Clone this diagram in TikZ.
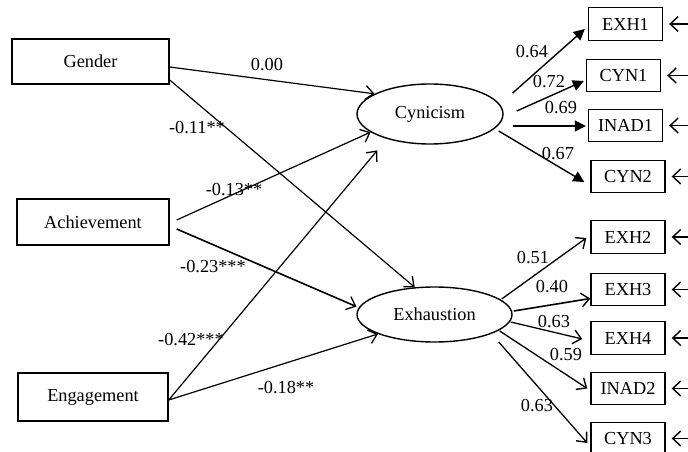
\documentclass[tikz,border=0pt]{standalone}
\usepackage{fontspec}
\setmainfont{Liberation Serif}
\usetikzlibrary{shapes.geometric,arrows.meta,calc}
\begin{document}
\begin{tikzpicture}[x=1pt,y=-1pt,
  font=\fontsize{18.3}{20}\selectfont,
  lbox/.style={draw,line width=1.4pt,inner sep=0pt},
  rbox/.style={draw,line width=1.4pt,inner sep=0pt,minimum width=74pt,minimum height=32.5pt},
  lat/.style={draw,ellipse,line width=1.4pt,inner sep=0pt},
  pathar/.style={line width=1.2pt,-{Straight Barb[length=8pt,width=14pt,line width=1.3pt]}},
  loadf/.style={line width=1.4pt,-{Triangle[length=11pt,width=11pt]}},
  loado/.style={line width=1.3pt,-{Straight Barb[length=8pt,width=14pt,line width=1.4pt]}},
  errar/.style={line width=1.4pt,-{Straight Barb[length=8pt,width=15pt,line width=1.4pt]}},
  lab/.style={inner sep=0pt}]
\useasboundingbox (0,0) rectangle (688,452);
\clip (0,0) rectangle (688,452);
\coordinate (edge) at (690,0);

% exogenous
\node[lbox,minimum width=157pt,minimum height=45pt] (gender) at (90.5,61.5) {Gender};
\node[lbox,minimum width=152pt,minimum height=46pt] (ach) at (93,222) {Achievement};
\node[lbox,minimum width=150pt,minimum height=48pt] (eng) at (93,397) {Engagement};

% latent
\node[lat,minimum width=146pt,minimum height=60pt] (cyn) at (430,114) {Cynicism};
\node[lat,minimum width=155pt,minimum height=55pt] (exh) at (434.5,314.5) {Exhaustion};

% indicators
\node[rbox] (exh1) at (625.5,24) {EXH1};
\node[rbox] (cyn1) at (623.5,75.5) {CYN1};
\node[rbox] (inad1) at (625.5,125.5) {INAD1};
\node[rbox] (cyn2) at (628,176.5) {CYN2};
\node[rbox] (exh2) at (628,237) {EXH2};
\node[rbox] (exh3) at (628,289.5) {EXH3};
\node[rbox] (exh4) at (628,338) {EXH4};
\node[rbox] (inad2) at (628,388.5) {INAD2};
\node[rbox] (cyn3) at (628,438.5) {CYN3};

% structural paths
\draw[pathar] ([yshift=-5.5pt]gender.east) -- (cyn.160);
\draw[pathar] ([yshift=-18.5pt]gender.east) -- (exh.126);
\draw[pathar] ([shift={(7pt,2pt)}]ach.east) -- (cyn.197);
\draw[pathar,line width=1.6pt] ([shift={(7pt,-7pt)}]ach.east) -- ([xshift=-3pt]exh.174);
\draw[pathar,shorten >=15pt] ([yshift=-3pt]eng.east) -- (cyn.210);
\draw[pathar] ([yshift=-3pt]eng.east) -- (exh.199);

% loadings cynicism
\draw[loadf] ($(cyn.east)+(9,-21)$) -- ($(exh1.west)+(-3,5)$);
\draw[loadf] ($(cyn.east)+(13,-3)$) -- ($(cyn1.west)+(-2,5.5)$);
\draw[loadf] ($(cyn.east)+(9,12)$) -- ($(inad1.west)+(-2,0.5)$);
\draw[loadf] ($(cyn.east)+(-5,17)$) -- ($(cyn2.west)+(-6,5.5)$);

% loadings exhaustion
\draw[loado] ($(exh.east)+(-11,-15.5)$) -- ($(exh2.west)+(-4,1)$);
\draw[loado,line width=1.6pt] ($(exh.east)+(1,-3.5)$) -- ($(exh3.west)+(0,9)$);
\draw[loado] ($(exh.east)+(-2,7.5)$) -- ($(exh4.west)+(-8,1)$);
\draw[loado] ($(exh.east)+(-13,16.5)$) -- ($(inad2.west)+(-3,0)$);
\draw[loado] ($(exh.east)+(-14,27.5)$) -- ($(cyn3.west)+(-3,4.5)$);

% error arrows
\foreach \n in {exh1,cyn1,inad1,cyn2,exh2,exh3,exh4,inad2,cyn3}{
  \draw[errar] (\n.east -| edge) -- ([xshift=6pt]\n.east);
}

% labels
\node[lab] (l1) at (267,65) {0.00};
\node[lab] (l2) at (197,128) {-0.11**};
\node[lab] (l3) at (234,190) {-0.13**};
\node[lab] (l4) at (213,267) {-0.23***};
\node[lab] (l5) at (191,340) {-0.42***};
\node[lab] (l6) at (286,388) {-0.18**};
\node[lab] (l7) at (532,52) {0.64};
\node[lab] (l8) at (549,82) {0.72};
\node[lab] (l9) at (561,108) {0.69};
\node[lab] (l10) at (558,154) {0.67};
\node[lab] (l11) at (533,258) {0.51};
\node[lab] (l12) at (552,287) {0.40};
\node[lab] (l13) at (554,322) {0.63};
\node[lab] (l14) at (566,355) {0.59};
\node[lab] (l15) at (537,406) {0.63};
\end{tikzpicture}
\end{document}
